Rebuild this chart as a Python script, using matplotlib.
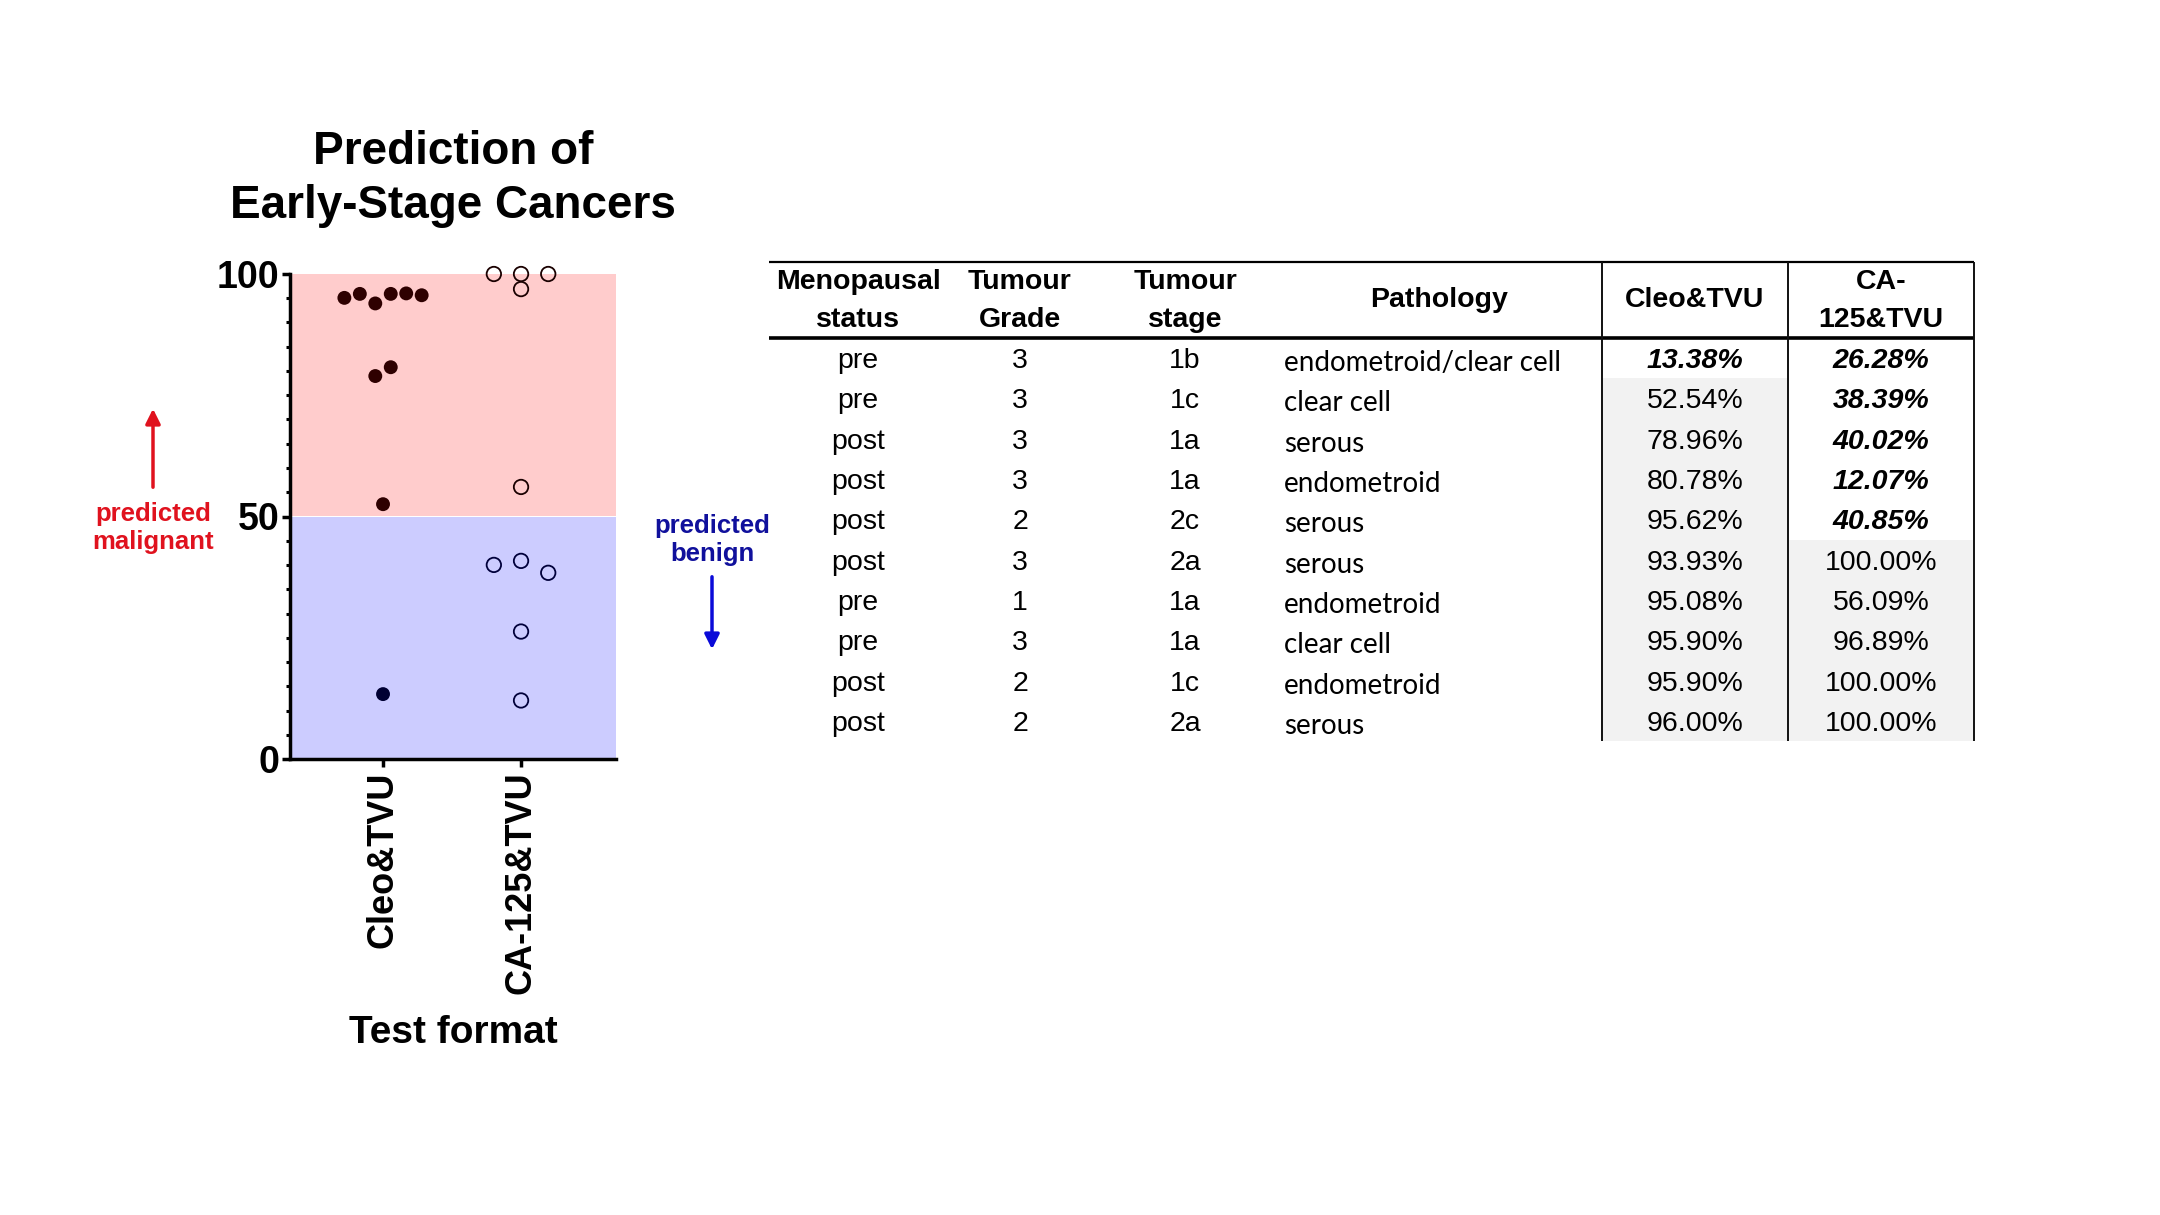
import numpy as np
import matplotlib
matplotlib.use("Agg")
import matplotlib.pyplot as plt
from matplotlib.ticker import MultipleLocator, FixedLocator

plt.rcParams['font.family'] = ['Liberation Sans', 'DejaVu Sans']

# chart data (order as the points appear in the dot plot)
groups = ['Cleo&TVU', 'CA-125&TVU']
cleo_points = [95.08, 95.90, 93.93, 95.90, 96.00, 95.62, 78.96, 80.78, 52.54, 13.38]
ca_points = [100.00, 100.00, 100.00, 96.89, 56.09, 40.02, 40.85, 38.39, 26.28, 12.07]
cutoff = 50

# table data
menopausal = ['pre', 'pre', 'post', 'post', 'post', 'post', 'pre', 'pre', 'post', 'post']
grade = ['3', '3', '3', '3', '2', '3', '1', '3', '2', '2']
stage = ['1b', '1c', '1a', '1a', '2c', '2a', '1a', '1a', '1c', '2a']
pathology = ['endometroid/clear cell', 'clear cell', 'serous', 'endometroid', 'serous',
             'serous', 'endometroid', 'clear cell', 'endometroid', 'serous']
cleo_pct = [13.38, 52.54, 78.96, 80.78, 95.62, 93.93, 95.08, 95.90, 95.90, 96.00]
ca_pct = [26.28, 38.39, 40.02, 12.07, 40.85, 100.00, 56.09, 96.89, 100.00, 100.00]
headers = [('Menopausal', 'status'), ('Tumour', 'Grade'), ('Tumour', 'stage'),
           ('Pathology',), ('Cleo&TVU',), ('CA-', '125&TVU')]


def swarm_offsets(values, step, tol=2.6):
    # group close values into rows, spread each row around the centre
    order = sorted(range(len(values)), key=lambda i: -values[i])
    rows = []
    for i in order:
        if rows and values[rows[-1][0]] - values[i] <= tol:
            rows[-1].append(i)
        else:
            rows.append([i])
    offs = [0.0] * len(values)
    for row in rows:
        row.sort()
        n = len(row)
        for k, i in enumerate(row):
            offs[i] = (k - (n - 1) / 2) * step
    return offs


W, H = 2160, 1215
fig = plt.figure(figsize=(W / 100, H / 100), dpi=100)

# overlay in pixel coordinates for the table and side notes
ov = fig.add_axes([0, 0, 1, 1])
ov.set_xlim(0, W)
ov.set_ylim(H, 0)
ov.axis('off')

# ---- dot plot ----
ax = fig.add_axes([290 / W, 1 - 759 / H, 326 / W, (759 - 274) / H])
ax.set_facecolor('none')
ax.axhspan(cutoff, 100, color='#ffcccc', zorder=0, lw=0)
ax.axhspan(0, cutoff, color='#ccccff', zorder=0, lw=0)

dark_red = '#2e0000'
navy = '#000033'

cx = np.array(swarm_offsets(cleo_points, 0.112)) + 0
cy = np.array(cleo_points)
ccol = [dark_red if v >= cutoff else navy for v in cleo_points]
ax.scatter(cx, cy, s=100, c=ccol, zorder=3, clip_on=False, linewidths=0)

kx = np.array(swarm_offsets(ca_points, 0.197)) + 1
ky = np.array(ca_points)
kcol = ['#1a0000' if v >= cutoff else '#00003a' for v in ca_points]
ax.scatter(kx, ky, s=108, facecolors='none', edgecolors=kcol, linewidths=1.3,
           zorder=3, clip_on=False)

ax.set_xlim(-0.674, 1.688)
ax.set_ylim(0, 100)
for s in ['top', 'right']:
    ax.spines[s].set_visible(False)
for s in ['left', 'bottom']:
    ax.spines[s].set_linewidth(2.5)
ax.yaxis.set_major_locator(FixedLocator([0, 50, 100]))
ax.yaxis.set_minor_locator(MultipleLocator(5))
ax.tick_params(axis='y', which='major', length=5.5, width=2.5, pad=2, labelsize=27)
ax.tick_params(axis='y', which='minor', length=3, width=2.2)
ax.tick_params(axis='x', which='major', length=6, width=2.5, pad=3, labelsize=26)
for lab in ax.get_yticklabels():
    lab.set_fontweight('bold')
ax.set_xticks([0, 1])
ax.set_xticklabels(groups, rotation=90, fontweight='bold')
ax.set_xlabel('Test format', fontsize=28, fontweight='bold', labelpad=15)
ax.set_title('Prediction of\nEarly-Stage Cancers', fontsize=33, fontweight='bold',
             pad=40, linespacing=1.3)

# ---- side notes ----
red = '#e0121e'
blue_txt = '#10109c'
ov.text(153, 528, 'predicted\nmalignant', color=red, fontsize=18.5, fontweight='bold',
        ha='center', va='center', linespacing=1.25)
ov.annotate('', xy=(153, 406), xytext=(153, 490),
            arrowprops=dict(arrowstyle='-|>', color=red, lw=2.5, mutation_scale=22))
ov.text(712, 540, 'predicted\nbenign', color=blue_txt, fontsize=18.5, fontweight='bold',
        ha='center', va='center', linespacing=1.25)
ov.annotate('', xy=(712, 652), xytext=(712, 574),
            arrowprops=dict(arrowstyle='-|>', color='#0a0ad8', lw=2.5, mutation_scale=22))

# ---- table ----
t_left, t_right = 769, 1974
t_top, t_head = 262, 338
row_h = 40.3
n_rows = len(menopausal)
t_bottom = t_head + row_h * n_rows
v1, v2 = 1602, 1788
col_x = [858, 1020, 1185, 1439, 1695, 1881]
path_left = 1284

# shading for correctly detected (>= cutoff) cells
for i in range(n_rows):
    y0 = t_head + row_h * i
    if cleo_pct[i] >= cutoff:
        ov.add_patch(plt.Rectangle((v1, y0), v2 - v1, row_h, color='#f2f2f2', lw=0, zorder=0))
    if ca_pct[i] >= cutoff:
        ov.add_patch(plt.Rectangle((v2, y0), t_right - v2, row_h, color='#f2f2f2', lw=0, zorder=0))

ov.plot([t_left, t_right], [t_top, t_top], color='black', lw=1.6, solid_capstyle='butt')
ov.plot([t_left, t_right], [t_head, t_head], color='black', lw=2.6, solid_capstyle='butt')
for vx in [v1, v2, t_right]:
    ov.plot([vx, vx], [t_top, t_bottom], color='#111111', lw=1.4, solid_capstyle='butt')

for x, h in zip(col_x, headers):
    if len(h) == 2:
        ov.text(x, 282, h[0], ha='center', va='center', fontsize=20.5, fontweight='bold')
        ov.text(x, 320, h[1], ha='center', va='center', fontsize=20.5, fontweight='bold')
    else:
        ov.text(x, 300, h[0], ha='center', va='center', fontsize=20.5, fontweight='bold')

for i in range(n_rows):
    yc = t_head + row_h * (i + 0.5) + 3
    ov.text(col_x[0], yc, menopausal[i], ha='center', va='center', fontsize=20.5)
    ov.text(col_x[1], yc, grade[i], ha='center', va='center', fontsize=20.5)
    ov.text(col_x[2], yc, stage[i], ha='center', va='center', fontsize=20.5)
    ov.text(path_left, yc + 2, pathology[i], ha='left', va='center', fontsize=20,
            family=['Lato', 'DejaVu Sans'])
    for x, v in [(col_x[4], cleo_pct[i]), (col_x[5], ca_pct[i])]:
        missed = v < cutoff
        ov.text(x, yc, '%.2f%%' % v, ha='center', va='center', fontsize=20.5,
                fontweight='bold' if missed else 'normal',
                fontstyle='italic' if missed else 'normal')

fig.savefig('out.png', dpi=100)
